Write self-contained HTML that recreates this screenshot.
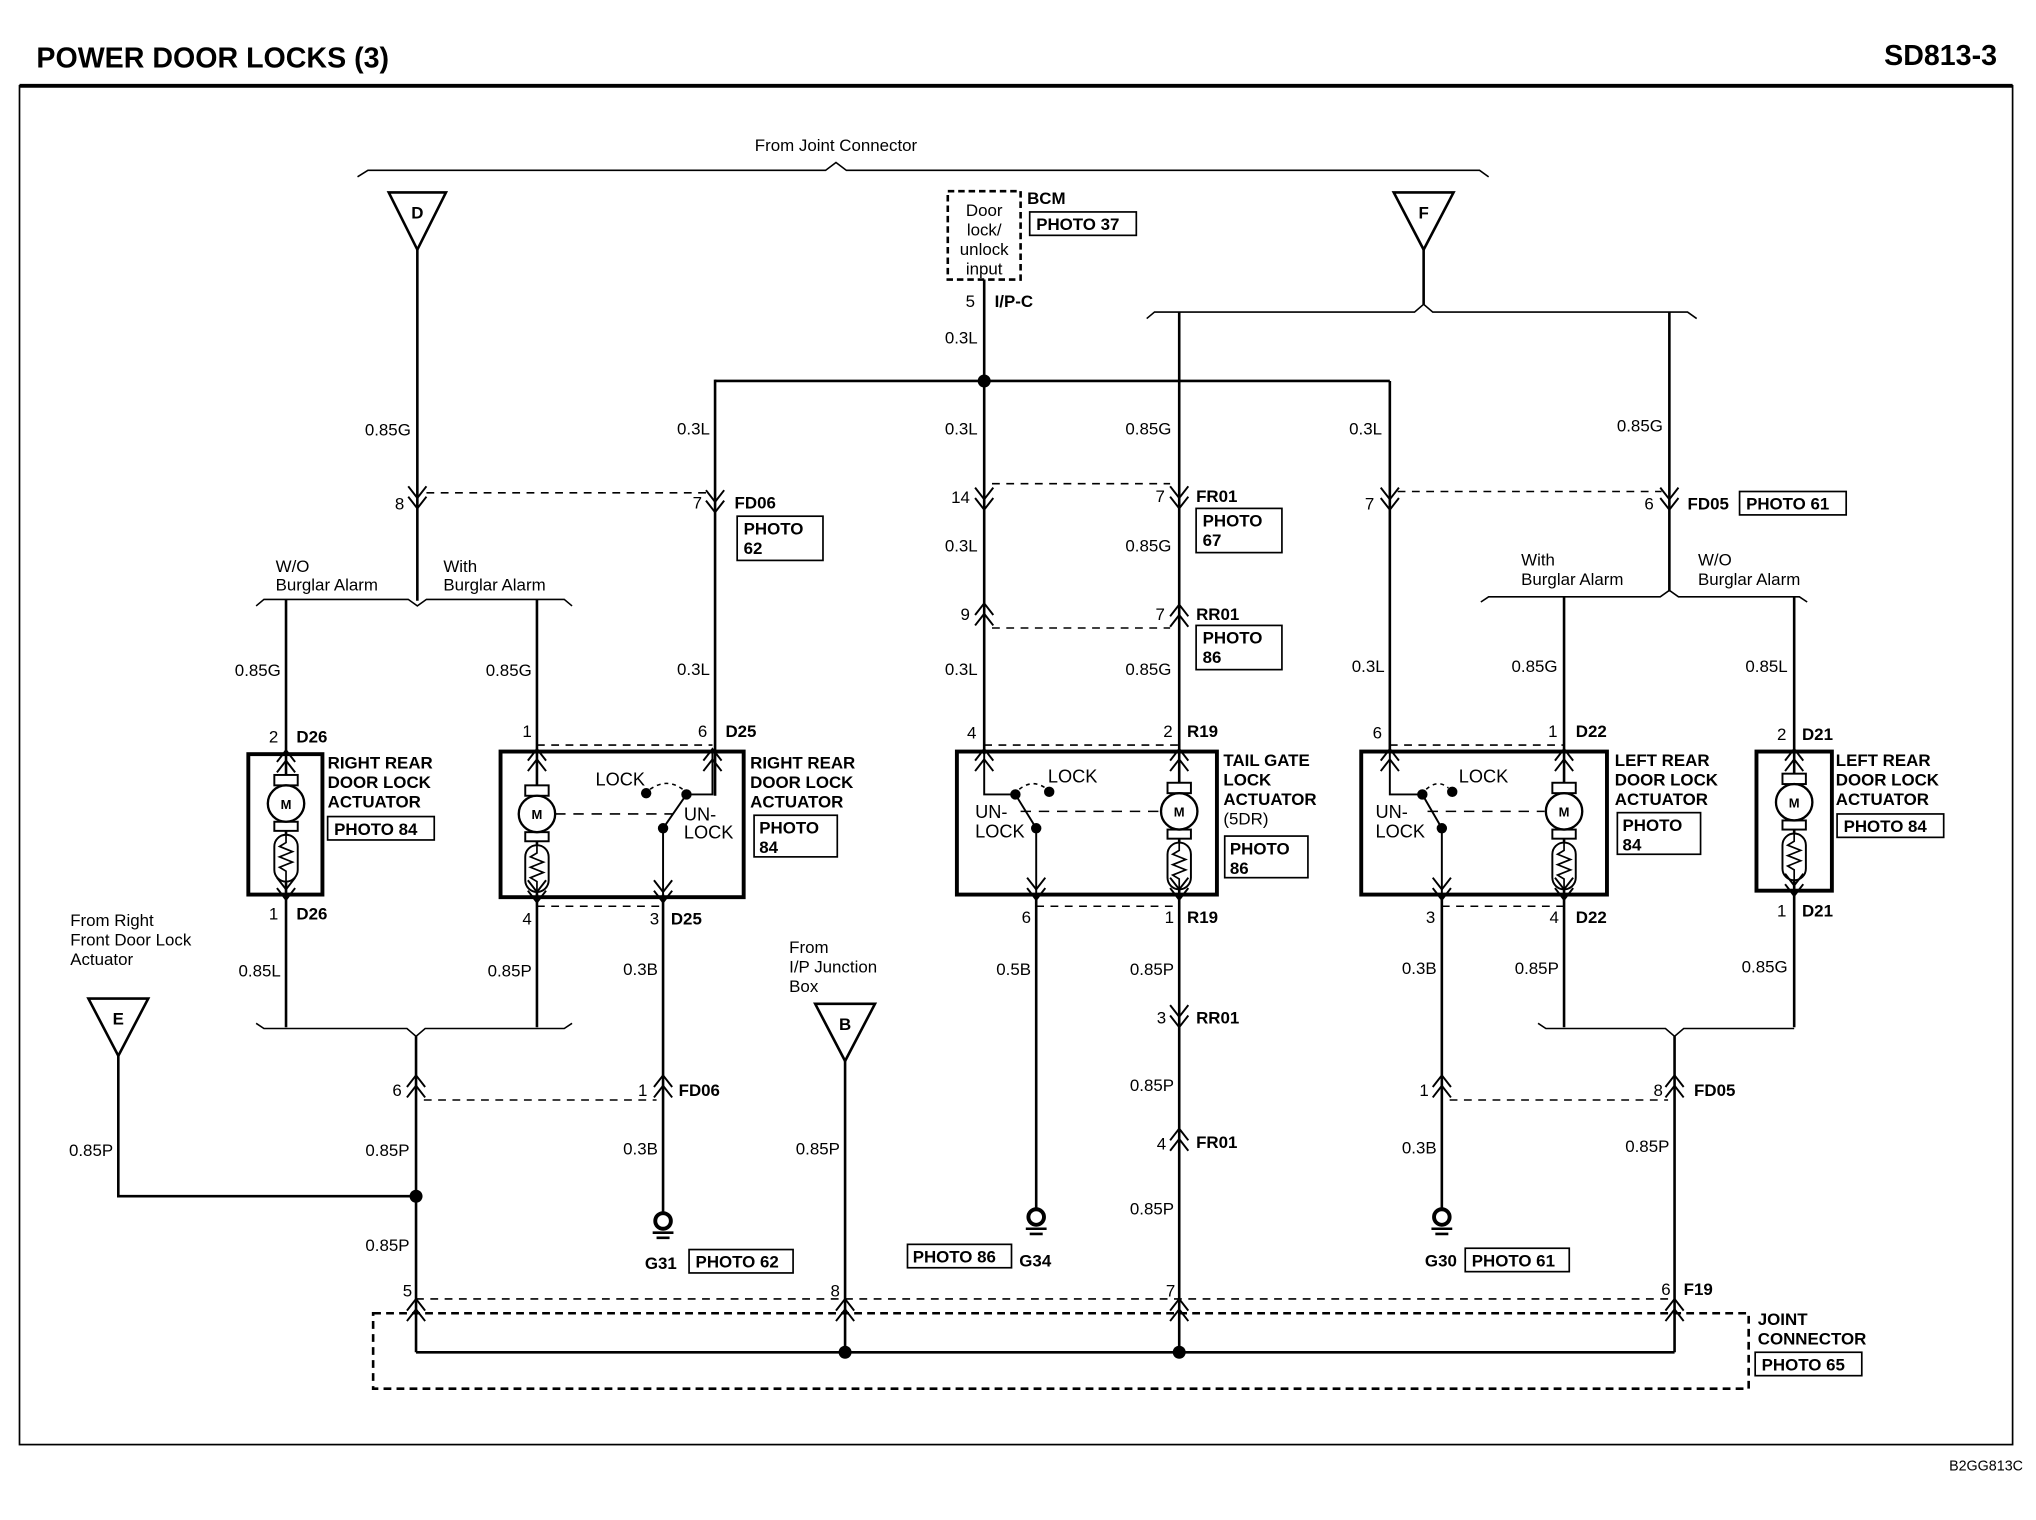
<!DOCTYPE html>
<html><head><meta charset="utf-8"><style>
html,body{margin:0;padding:0;background:#fff;}
svg{display:block;}
text{font-family:"Liberation Sans",Arial,sans-serif;fill:#000;}
.t{font-size:13px;}
.b{font-size:13px;font-weight:bold;}
.w{stroke:#000;stroke-width:2;fill:none;}
.th{stroke:#000;stroke-width:3;fill:none;}
.d{stroke:#000;stroke-width:1.2;fill:none;stroke-dasharray:6,5;}
.bx{stroke:#000;stroke-width:1.3;fill:#fff;}
</style></head><body>
<svg width="2036" height="1520" viewBox="0 0 1566 1169" preserveAspectRatio="none" xmlns="http://www.w3.org/2000/svg">
<defs>
<path id="cd" d="M-7,-9 L0,0 L7,-9 M-7,-1 L0,8 L7,-1" stroke="#000" stroke-width="1.5" fill="none"/>
<path id="cu" d="M-7,9 L0,0 L7,9 M-7,1 L0,-8 L7,1" stroke="#000" stroke-width="1.5" fill="none"/>
<g id="mot">
<rect x="-9" y="-22" width="18" height="8" fill="#fff" stroke="#000" stroke-width="1.5"/>
<rect x="-9" y="14" width="18" height="7" fill="#fff" stroke="#000" stroke-width="1.5"/>
<circle r="14" fill="#fff" stroke="#000" stroke-width="1.8"/>
<text x="0" y="4" font-size="10" font-weight="bold" text-anchor="middle">M</text>
<rect x="-9" y="24" width="18" height="36" rx="9" fill="#fff" stroke="#000" stroke-width="1.5"/>
<path d="M0,24 V30 L-5,33 L5,37 L-5,41 L5,45 L-5,49 L0,52 V60" stroke="#000" stroke-width="1.3" fill="none"/>
</g>
</defs>
<!-- header -->
<text x="28" y="52" font-size="22" font-weight="bold">POWER DOOR LOCKS (3)</text>
<text x="1536" y="50" font-size="22" font-weight="bold" text-anchor="end">SD813-3</text>
<line x1="15" y1="66" x2="1548" y2="66" stroke="#000" stroke-width="3"/>
<rect x="15" y="66" width="1533" height="1045" fill="none" stroke="#000" stroke-width="1.3"/>
<text x="1556" y="1131" font-size="11" text-anchor="end">B2GG813C</text>

<!-- top brace -->
<path class="w" style="stroke-width:1.2" d="M275,136 L283,131 H635 L643,125 L651,131 H1138 L1145,136"/>
<text x="643" y="116" class="t" text-anchor="middle">From Joint Connector</text>

<!-- D -->
<polygon points="299,148 343,148 321,192" fill="#fff" stroke="#000" stroke-width="2"/>
<text x="321" y="168" class="b" text-anchor="middle">D</text>
<line class="w" x1="321" y1="192" x2="321" y2="462"/>
<use href="#cd" x="321" y="383"/>
<text x="311" y="392" class="t" text-anchor="end">8</text>
<text x="316" y="335" class="t" text-anchor="end">0.85G</text>
<line class="d" x1="328" y1="379" x2="545" y2="379"/>
<path class="w" style="stroke-width:1.2" d="M197,466 L203,461 H314 L321,466 L328,461 H434 L440,466"/>
<text x="212" y="440" class="t">W/O</text><text x="212" y="454" class="t">Burglar Alarm</text>
<text x="341" y="440" class="t">With</text><text x="341" y="454" class="t">Burglar Alarm</text>
<line class="w" x1="220" y1="461" x2="220" y2="580"/>
<line class="w" x1="413" y1="461" x2="413" y2="578"/>
<text x="216" y="520" class="t" text-anchor="end">0.85G</text>
<text x="409" y="520" class="t" text-anchor="end">0.85G</text>

<!-- FD06 wire -->
<line class="w" x1="550" y1="292" x2="550" y2="612"/>
<use href="#cd" x="550" y="386"/>
<text x="540" y="391" class="t" text-anchor="end">7</text>
<text x="565" y="391" class="b">FD06</text>
<rect class="bx" x="567" y="397" width="66" height="34"/>
<text x="572" y="411" class="b">PHOTO</text><text x="572" y="426" class="b">62</text>
<text x="546" y="334" class="t" text-anchor="end">0.3L</text>
<text x="546" y="519" class="t" text-anchor="end">0.3L</text>

<!-- main bus -->
<line class="w" x1="550" y1="293" x2="1069" y2="293"/>
<circle cx="757" cy="293" r="5"/>

<!-- BCM -->
<rect x="729" y="147" width="56" height="68" fill="none" stroke="#000" stroke-width="2" stroke-dasharray="5,3"/>
<text x="757" y="166" class="t" text-anchor="middle">Door</text>
<text x="757" y="181" class="t" text-anchor="middle">lock/</text>
<text x="757" y="196" class="t" text-anchor="middle">unlock</text>
<text x="757" y="211" class="t" text-anchor="middle">input</text>
<text x="790" y="157" class="b">BCM</text>
<rect class="bx" x="792" y="163" width="82" height="18"/>
<text x="797" y="177" class="b">PHOTO 37</text>
<line class="w" x1="757" y1="215" x2="757" y2="580"/>
<text x="750" y="236" class="t" text-anchor="end">5</text>
<text x="765" y="236" class="b">I/P-C</text>
<text x="752" y="264" class="t" text-anchor="end">0.3L</text>
<text x="752" y="334" class="t" text-anchor="end">0.3L</text>
<use href="#cd" x="757" y="384"/>
<text x="746" y="387" class="t" text-anchor="end">14</text>
<line class="d" x1="763" y1="372" x2="900" y2="372"/>
<text x="752" y="424" class="t" text-anchor="end">0.3L</text>
<use href="#cu" x="757" y="472"/>
<text x="746" y="477" class="t" text-anchor="end">9</text>
<line class="d" x1="763" y1="483" x2="900" y2="483"/>
<text x="752" y="519" class="t" text-anchor="end">0.3L</text>
<text x="751" y="568" class="t" text-anchor="end">4</text>

<!-- F -->
<polygon points="1072,148 1118,148 1095,192" fill="#fff" stroke="#000" stroke-width="2"/>
<text x="1095" y="168" class="b" text-anchor="middle">F</text>
<line class="w" x1="1095" y1="192" x2="1095" y2="234"/>
<path class="w" style="stroke-width:1.2" d="M882,245 L888,240 H1088 L1095,234 L1102,240 H1298 L1305,245"/>
<line class="w" x1="907" y1="240" x2="907" y2="578"/>
<text x="901" y="334" class="t" text-anchor="end">0.85G</text>
<use href="#cd" x="907" y="383"/>
<text x="896" y="386" class="t" text-anchor="end">7</text>
<text x="920" y="386" class="b">FR01</text>
<rect class="bx" x="920" y="391" width="66" height="34"/>
<text x="925" y="405" class="b">PHOTO</text><text x="925" y="420" class="b">67</text>
<text x="901" y="424" class="t" text-anchor="end">0.85G</text>
<use href="#cu" x="907" y="473"/>
<text x="896" y="477" class="t" text-anchor="end">7</text>
<text x="920" y="477" class="b">RR01</text>
<rect class="bx" x="920" y="481" width="66" height="34"/>
<text x="925" y="495" class="b">PHOTO</text><text x="925" y="510" class="b">86</text>
<text x="901" y="519" class="t" text-anchor="end">0.85G</text>
<text x="902" y="567" class="t" text-anchor="end">2</text>
<text x="913" y="567" class="b">R19</text>

<line class="w" x1="1069" y1="293" x2="1069" y2="578"/>
<text x="1063" y="334" class="t" text-anchor="end">0.3L</text>
<use href="#cd" x="1069" y="384"/>
<text x="1057" y="392" class="t" text-anchor="end">7</text>
<line class="d" x1="1075" y1="378" x2="1278" y2="378"/>
<text x="1065" y="517" class="t" text-anchor="end">0.3L</text>
<text x="1063" y="568" class="t" text-anchor="end">6</text>

<line class="w" x1="1284" y1="240" x2="1284" y2="455"/>
<text x="1279" y="332" class="t" text-anchor="end">0.85G</text>
<use href="#cd" x="1284" y="384"/>
<text x="1272" y="392" class="t" text-anchor="end">6</text>
<text x="1298" y="392" class="b">FD05</text>
<rect class="bx" x="1338" y="378" width="82" height="18"/>
<text x="1343" y="392" class="b">PHOTO 61</text>
<path class="w" style="stroke-width:1.2" d="M1139,463 L1145,459 H1277 L1284,454 L1291,459 H1384 L1390,463"/>
<text x="1170" y="435" class="t">With</text><text x="1170" y="450" class="t">Burglar Alarm</text>
<text x="1306" y="435" class="t">W/O</text><text x="1306" y="450" class="t">Burglar Alarm</text>
<line class="w" x1="1203" y1="459" x2="1203" y2="578"/>
<line class="w" x1="1380" y1="459" x2="1380" y2="580"/>
<text x="1198" y="517" class="t" text-anchor="end">0.85G</text>
<text x="1375" y="517" class="t" text-anchor="end">0.85L</text>

<!-- D26 -->
<rect x="191" y="580" width="57" height="108" fill="none" stroke="#000" stroke-width="3"/>
<line class="w" x1="220" y1="580" x2="220" y2="688"/>
<use href="#cu" x="220" y="585"/>
<use href="#mot" x="220" y="618"/>
<use href="#cd" x="220" y="684"/>
<text x="214" y="571" class="t" text-anchor="end">2</text><text x="228" y="571" class="b">D26</text>
<text x="214" y="707" class="t" text-anchor="end">1</text><text x="228" y="707" class="b">D26</text>
<text x="252" y="591" class="b">RIGHT REAR</text><text x="252" y="606" class="b">DOOR LOCK</text><text x="252" y="621" class="b">ACTUATOR</text>
<rect class="bx" x="252" y="628" width="82" height="18"/><text x="257" y="642" class="b">PHOTO 84</text>

<!-- D25 -->
<rect x="385" y="578" width="187" height="112" fill="none" stroke="#000" stroke-width="3"/>
<line class="d" x1="413" y1="573" x2="548" y2="573"/>
<line class="d" x1="413" y1="697" x2="510" y2="697"/>
<line class="w" x1="413" y1="578" x2="413" y2="690"/>
<use href="#cu" x="413" y="584"/>
<use href="#mot" x="413" y="626"/>
<use href="#cd" x="413" y="686"/>
<path class="w" style="stroke-width:1.5" d="M548,578 V611 H528 L510,637 V690"/>
<use href="#cu" x="548" y="584"/>
<use href="#cd" x="510" y="686"/>
<circle cx="497" cy="610" r="4"/><circle cx="528" cy="611" r="4"/><circle cx="510" cy="637" r="4"/>
<path d="M500,607 Q513,598 525,607" class="d" style="stroke-dasharray:3,3"/>
<line class="d" x1="427" y1="626" x2="518" y2="626" style="stroke-dasharray:8,6"/>
<text x="458" y="604" font-size="14">LOCK</text>
<text x="526" y="631" font-size="14">UN-</text><text x="526" y="645" font-size="14">LOCK</text>
<text x="409" y="567" class="t" text-anchor="end">1</text>
<text x="544" y="567" class="t" text-anchor="end">6</text><text x="558" y="567" class="b">D25</text>
<text x="409" y="711" class="t" text-anchor="end">4</text>
<text x="507" y="711" class="t" text-anchor="end">3</text><text x="516" y="711" class="b">D25</text>
<text x="577" y="591" class="b">RIGHT REAR</text><text x="577" y="606" class="b">DOOR LOCK</text><text x="577" y="621" class="b">ACTUATOR</text>
<rect class="bx" x="580" y="627" width="64" height="32"/><text x="584" y="641" class="b">PHOTO</text><text x="584" y="656" class="b">84</text>

<!-- Tail gate -->
<rect x="736" y="578" width="200" height="110" fill="none" stroke="#000" stroke-width="3"/>
<line class="d" x1="757" y1="573" x2="907" y2="573"/>
<line class="d" x1="797" y1="697" x2="907" y2="697"/>
<path class="w" style="stroke-width:1.5" d="M757,578 V611 H781 L797,637 V688"/>
<use href="#cu" x="757" y="584"/>
<use href="#cd" x="797" y="684"/>
<circle cx="781" cy="611" r="4"/><circle cx="807" cy="609" r="4"/><circle cx="797" cy="637" r="4"/>
<path d="M784,607 Q794,599 804,606" class="d" style="stroke-dasharray:3,3"/>
<line class="d" x1="785" y1="624" x2="892" y2="624" style="stroke-dasharray:8,6"/>
<line class="w" x1="907" y1="578" x2="907" y2="688"/>
<use href="#cu" x="907" y="584"/>
<use href="#mot" x="907" y="624"/>
<use href="#cd" x="907" y="684"/>
<text x="806" y="602" font-size="14">LOCK</text>
<text x="750" y="629" font-size="14">UN-</text><text x="750" y="644" font-size="14">LOCK</text>
<text x="941" y="589" class="b">TAIL GATE</text><text x="941" y="604" class="b">LOCK</text><text x="941" y="619" class="b">ACTUATOR</text><text x="941" y="634" class="t">(5DR)</text>
<rect class="bx" x="942" y="643" width="64" height="32"/><text x="946" y="657" class="b">PHOTO</text><text x="946" y="672" class="b">86</text>
<text x="793" y="710" class="t" text-anchor="end">6</text>
<text x="903" y="710" class="t" text-anchor="end">1</text><text x="913" y="710" class="b">R19</text>

<!-- Left rear D22 -->
<rect x="1047" y="578" width="189" height="110" fill="none" stroke="#000" stroke-width="3"/>
<line class="d" x1="1069" y1="573" x2="1203" y2="573"/>
<line class="d" x1="1109" y1="697" x2="1203" y2="697"/>
<path class="w" style="stroke-width:1.5" d="M1069,578 V611 H1094 L1109,637 V688"/>
<use href="#cu" x="1069" y="584"/>
<use href="#cd" x="1109" y="684"/>
<circle cx="1094" cy="611" r="4"/><circle cx="1117" cy="609" r="4"/><circle cx="1109" cy="637" r="4"/>
<path d="M1097,607 Q1106,599 1114,606" class="d" style="stroke-dasharray:3,3"/>
<line class="d" x1="1098" y1="624" x2="1188" y2="624" style="stroke-dasharray:8,6"/>
<line class="w" x1="1203" y1="578" x2="1203" y2="688"/>
<use href="#cu" x="1203" y="584"/>
<use href="#mot" x="1203" y="624"/>
<use href="#cd" x="1203" y="684"/>
<text x="1122" y="602" font-size="14">LOCK</text>
<text x="1058" y="629" font-size="14">UN-</text><text x="1058" y="644" font-size="14">LOCK</text>
<text x="1198" y="567" class="t" text-anchor="end">1</text><text x="1212" y="567" class="b">D22</text>
<text x="1104" y="710" class="t" text-anchor="end">3</text>
<text x="1199" y="710" class="t" text-anchor="end">4</text><text x="1212" y="710" class="b">D22</text>
<text x="1242" y="589" class="b">LEFT REAR</text><text x="1242" y="604" class="b">DOOR LOCK</text><text x="1242" y="619" class="b">ACTUATOR</text>
<rect class="bx" x="1244" y="625" width="64" height="32"/><text x="1248" y="639" class="b">PHOTO</text><text x="1248" y="654" class="b">84</text>

<!-- D21 -->
<rect x="1351" y="578" width="58" height="107" fill="none" stroke="#000" stroke-width="3"/>
<line class="w" x1="1380" y1="578" x2="1380" y2="790"/>
<use href="#cu" x="1380" y="584"/>
<use href="#mot" x="1380" y="617"/>
<use href="#cd" x="1380" y="681"/>
<text x="1374" y="569" class="t" text-anchor="end">2</text><text x="1386" y="569" class="b">D21</text>
<text x="1374" y="705" class="t" text-anchor="end">1</text><text x="1386" y="705" class="b">D21</text>
<text x="1412" y="589" class="b">LEFT REAR</text><text x="1412" y="604" class="b">DOOR LOCK</text><text x="1412" y="619" class="b">ACTUATOR</text>
<rect class="bx" x="1413" y="626" width="82" height="18"/><text x="1418" y="640" class="b">PHOTO 84</text>

<!-- lower wiring left -->
<line class="w" x1="220" y1="688" x2="220" y2="790"/>
<line class="w" x1="413" y1="688" x2="413" y2="790"/>
<text x="216" y="751" class="t" text-anchor="end">0.85L</text>
<text x="409" y="751" class="t" text-anchor="end">0.85P</text>
<path class="w" style="stroke-width:1.2" d="M197,787 L203,791 H313 L320,797 L327,791 H434 L440,787"/>
<line class="w" x1="320" y1="797" x2="320" y2="1040"/>
<use href="#cu" x="320" y="835"/>
<text x="309" y="843" class="t" text-anchor="end">6</text>
<line class="d" x1="326" y1="846" x2="505" y2="846"/>
<text x="315" y="889" class="t" text-anchor="end">0.85P</text>
<text x="315" y="962" class="t" text-anchor="end">0.85P</text>
<circle cx="320" cy="920" r="5"/>
<polygon points="68,768 114,768 91,812" fill="#fff" stroke="#000" stroke-width="2"/>
<text x="91" y="788" class="b" text-anchor="middle">E</text>
<path class="w" d="M91,812 V920 H320"/>
<text x="87" y="889" class="t" text-anchor="end">0.85P</text>
<text x="54" y="712" class="t">From Right</text><text x="54" y="727" class="t">Front Door Lock</text><text x="54" y="742" class="t">Actuator</text>

<line class="w" x1="510" y1="688" x2="510" y2="934"/>
<text x="506" y="750" class="t" text-anchor="end">0.3B</text>
<use href="#cu" x="510" y="835"/>
<text x="498" y="843" class="t" text-anchor="end">1</text><text x="522" y="843" class="b">FD06</text>
<text x="506" y="888" class="t" text-anchor="end">0.3B</text>
<circle cx="510" cy="939" r="6" fill="#fff" stroke="#000" stroke-width="3"/>
<path class="w" d="M502,948 H518 M505,952 H515"/>
<text x="496" y="976" class="b">G31</text>
<rect class="bx" x="530" y="961" width="80" height="18"/><text x="535" y="975" class="b">PHOTO 62</text>

<text x="607" y="733" class="t">From</text><text x="607" y="748" class="t">I/P Junction</text><text x="607" y="763" class="t">Box</text>
<polygon points="627,772 673,772 650,816" fill="#fff" stroke="#000" stroke-width="2"/>
<text x="650" y="792" class="b" text-anchor="middle">B</text>
<line class="w" x1="650" y1="816" x2="650" y2="1040"/>
<text x="646" y="888" class="t" text-anchor="end">0.85P</text>

<line class="w" x1="797" y1="688" x2="797" y2="930"/>
<text x="793" y="750" class="t" text-anchor="end">0.5B</text>
<circle cx="797" cy="936" r="6" fill="#fff" stroke="#000" stroke-width="3"/>
<path class="w" d="M789,945 H805 M792,949 H802"/>
<rect class="bx" x="698" y="957" width="80" height="18"/><text x="702" y="971" class="b">PHOTO 86</text>
<text x="784" y="974" class="b">G34</text>

<line class="w" x1="907" y1="688" x2="907" y2="1040"/>
<text x="903" y="750" class="t" text-anchor="end">0.85P</text>
<use href="#cd" x="907" y="782"/>
<text x="897" y="787" class="t" text-anchor="end">3</text><text x="920" y="787" class="b">RR01</text>
<text x="903" y="839" class="t" text-anchor="end">0.85P</text>
<use href="#cu" x="907" y="876"/>
<text x="897" y="884" class="t" text-anchor="end">4</text><text x="920" y="883" class="b">FR01</text>
<text x="903" y="934" class="t" text-anchor="end">0.85P</text>

<line class="w" x1="1109" y1="688" x2="1109" y2="930"/>
<text x="1105" y="749" class="t" text-anchor="end">0.3B</text>
<use href="#cu" x="1109" y="835"/>
<text x="1099" y="843" class="t" text-anchor="end">1</text>
<line class="d" x1="1115" y1="846" x2="1283" y2="846"/>
<text x="1105" y="887" class="t" text-anchor="end">0.3B</text>
<circle cx="1109" cy="936" r="6" fill="#fff" stroke="#000" stroke-width="3"/>
<path class="w" d="M1101,945 H1117 M1104,949 H1114"/>
<text x="1096" y="974" class="b">G30</text>
<rect class="bx" x="1127" y="960" width="80" height="18"/><text x="1132" y="974" class="b">PHOTO 61</text>

<line class="w" x1="1203" y1="688" x2="1203" y2="790"/>
<text x="1199" y="749" class="t" text-anchor="end">0.85P</text>
<text x="1375" y="748" class="t" text-anchor="end">0.85G</text>
<path class="w" style="stroke-width:1.2" d="M1183,787 L1189,791 H1281 L1288,797 L1295,791 H1380"/>
<line class="w" x1="1288" y1="797" x2="1288" y2="1040"/>
<use href="#cu" x="1288" y="835"/>
<text x="1279" y="843" class="t" text-anchor="end">8</text><text x="1303" y="843" class="b">FD05</text>
<text x="1284" y="886" class="t" text-anchor="end">0.85P</text>

<!-- joint connector -->
<rect x="287" y="1010" width="1058" height="58" fill="none" stroke="#000" stroke-width="2" stroke-dasharray="6,4"/>
<line class="d" x1="320" y1="999" x2="1288" y2="999"/>
<use href="#cu" x="320" y="1007"/>
<use href="#cu" x="650" y="1007"/>
<use href="#cu" x="907" y="1007"/>
<use href="#cu" x="1288" y="1007"/>
<line class="w" x1="320" y1="1040" x2="1288" y2="1040"/>
<circle cx="650" cy="1040" r="5"/><circle cx="907" cy="1040" r="5"/>
<text x="317" y="997" class="t" text-anchor="end">5</text>
<text x="646" y="997" class="t" text-anchor="end">8</text>
<text x="904" y="997" class="t" text-anchor="end">7</text>
<text x="1285" y="996" class="t" text-anchor="end">6</text><text x="1295" y="996" class="b">F19</text>
<text x="1352" y="1019" class="b">JOINT</text><text x="1352" y="1034" class="b">CONNECTOR</text>
<rect class="bx" x="1350" y="1040" width="82" height="18"/><text x="1355" y="1054" class="b">PHOTO 65</text>
</svg>
</body></html>
